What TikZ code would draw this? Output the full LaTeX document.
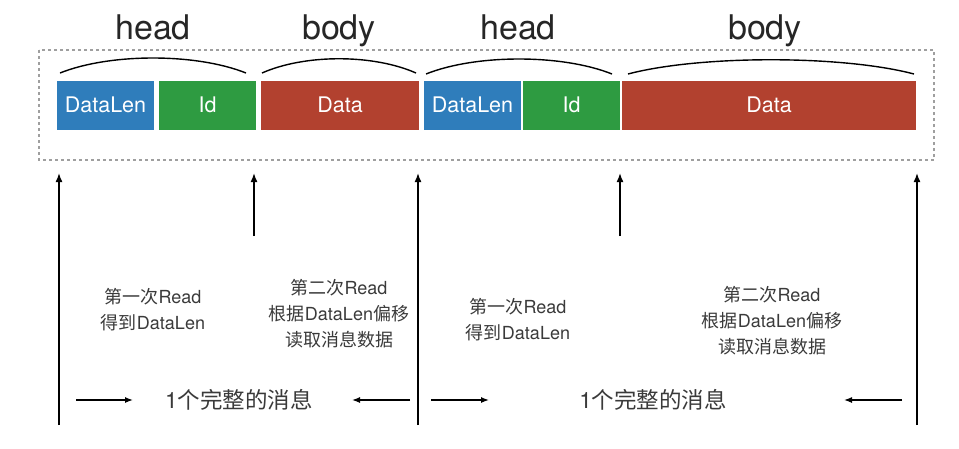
\documentclass[tikz,border=0pt]{standalone}
\usepackage{fontspec}
\setmainfont{TeX Gyre Heros}
\newfontfamily\cjk{Noto Sans CJK SC}
\usepackage{xcolor}
\usepackage{tikz}
\usetikzlibrary{arrows.meta,positioning}
\definecolor{lenblue}{HTML}{2F7DBB}
\definecolor{idgreen}{HTML}{2E9B41}
\definecolor{datared}{HTML}{B2412F}
\definecolor{labelgray}{HTML}{3A3A3A}
\newcommand{\zh}[1]{{\cjk #1}}

\begin{document}
\begin{tikzpicture}[
    x=1pt, y=-1pt,
    field/.style={rectangle, text=white, minimum height=49pt, inner sep=0pt, outer sep=0pt, font=\fontsize{21.5}{24}\selectfont},
    segname/.style={anchor=base, text=black!85, font=\fontsize{34}{38}\selectfont},
    bowline/.style={line width=1.4pt},
    readarrow/.style={-{Latex[length=9pt,width=7pt]}, line width=1.6pt},
    spanarrow/.style={-{Latex[length=8pt,width=6pt]}, line width=1.3pt},
    note/.style={align=center, text=labelgray, font=\fontsize{18}{26}\selectfont},
    whole/.style={text=labelgray, font=\fontsize{22.5}{26}\selectfont}
]
    \useasboundingbox (0,0) rectangle (959,448);

    % Boundary
    \draw[dashed, dash pattern=on 3pt off 3pt, gray!75, line width=1.3pt] (39,50) rectangle (934,160);

    % First message
    \node[field, fill=lenblue, minimum width=97pt, anchor=west] (len1) at (57,105) {DataLen};
    \node[field, fill=idgreen, minimum width=97pt, right=5pt of len1] (id1) {Id};
    \node[field, fill=datared, minimum width=158pt, right=5pt of id1] (data1) {Data};

    % Second message
    \node[field, fill=lenblue, minimum width=97pt, right=5pt of data1] (len2) {DataLen};
    \node[field, fill=idgreen, minimum width=97pt, right=2pt of len2] (id2) {Id};
    \node[field, fill=datared, minimum width=294pt, right=2pt of id2] (data2) {Data};

    % head / body marks
    \draw[bowline] (60,73) .. controls (110,53) and (196,53) .. (246,73);
    \draw[bowline] (262,73) .. controls (305,54) and (373,54) .. (416,73);
    \draw[bowline] (426,74) .. controls (476,54) and (562,54) .. (612,74);
    \draw[bowline] (628,74) .. controls (700,55) and (842,55) .. (914,74);
    \node[segname] (head1) at (153,39) {head};
    \node[segname] (body1) at (339,39) {body};
    \node[segname] (head2) at (518,39) {head};
    \node[segname] (body2) at (765,39) {body};

    % Read positions
    \coordinate (low1) at (59,425);  \coordinate (top1) at (59,173);
    \coordinate (low2) at (254,236); \coordinate (top2) at (254,173);
    \coordinate (low3) at (418,425); \coordinate (top3) at (418,173);
    \coordinate (low4) at (620,236); \coordinate (top4) at (620,173);
    \coordinate (low5) at (917,425); \coordinate (top5) at (917,173);
    \draw[readarrow] (low1) -- (top1);
    \draw[readarrow] (low2) -- (top2);
    \draw[readarrow] (low3) -- (top3);
    \draw[readarrow] (low4) -- (top4);
    \draw[readarrow] (low5) -- (top5);

    % Read steps
    \node[note] (first1) at (153,310) {\zh{第一次}Read\\\zh{得到}DataLen};
    \node[note] (second1) at (339,314) {\zh{第二次}Read\\\zh{根据}DataLen\zh{偏移}\\\zh{读取消息数据}};
    \node[note] (first2) at (518,320) {\zh{第一次}Read\\\zh{得到}DataLen};
    \node[note] (second2) at (772,321) {\zh{第二次}Read\\\zh{根据}DataLen\zh{偏移}\\\zh{读取消息数据}};

    % Whole message spans
    \node[whole] (msg1) at (239,400) {1\zh{个完整的消息}};
    \node[whole] (msg2) at (653,400) {1\zh{个完整的消息}};
    \coordinate (from1) at (76,400);  \coordinate (to1) at (133,400);
    \coordinate (from2) at (410,400); \coordinate (to2) at (352,400);
    \coordinate (from3) at (431,400); \coordinate (to3) at (489,400);
    \coordinate (from4) at (902,400); \coordinate (to4) at (844,400);
    \draw[spanarrow] (from1) -- (to1);
    \draw[spanarrow] (from2) -- (to2);
    \draw[spanarrow] (from3) -- (to3);
    \draw[spanarrow] (from4) -- (to4);

\end{tikzpicture}
\end{document}
